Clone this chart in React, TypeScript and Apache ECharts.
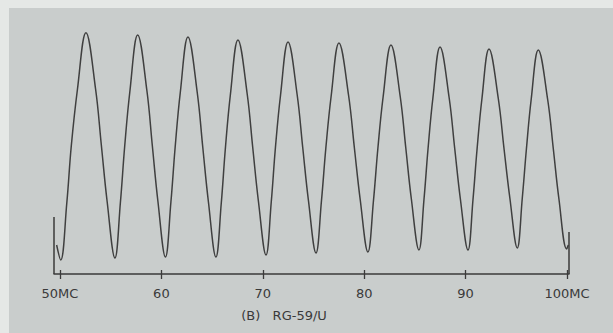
import React, { useEffect, useRef } from "react";
import * as echarts from "echarts";

// Frequency (MC) of each traced point along the curve
const curveMC = [
  49.67, 50.07,
  50.67, 51.11, 51.72, 52.56, 53.51, 54.08, 54.65, 55.42,
  55.96, 56.38, 56.9, 57.66, 58.57, 59.11, 59.66, 60.4,
  60.94, 61.36, 61.87, 62.62, 63.53, 64.08, 64.64, 65.38,
  65.91, 66.31, 66.81, 67.55, 68.46, 69.01, 69.57, 70.32,
  70.84, 71.24, 71.75, 72.49, 73.39, 73.94, 74.5, 75.25,
  75.79, 76.22, 76.75, 77.51, 78.46, 79.03, 79.61, 80.37,
  80.92, 81.35, 81.87, 82.64, 83.55, 84.1, 84.65, 85.4,
  85.9, 86.3, 86.78, 87.48, 88.38, 88.93, 89.49, 90.24,
  90.73, 91.13, 91.61, 92.31, 93.23, 93.79, 94.37, 95.1,
  95.59, 96.0, 96.47, 97.17, 98.1, 98.66, 99.21, 99.97,
  100.13,
];

// Relative response level at each traced point
const curveLevel = [
  11.6, 5.6,
  28.3, 51, 73.8, 96.5, 74, 51.5, 29, 6.4,
  28.7, 51, 73.3, 95.6, 73.4, 51.2, 29, 6.8,
  28.8, 50.8, 72.8, 94.8, 72.8, 50.8, 28.8, 6.8,
  28.5, 50.2, 71.9, 93.6, 72.1, 50.6, 29.1, 7.6,
  29, 50.2, 71.5, 92.8, 71.7, 50.6, 29.5, 8.4,
  29.4, 50.4, 71.4, 92.4, 71.5, 50.6, 29.7, 8.8,
  29.5, 50.2, 70.9, 91.6, 71.1, 50.6, 30.1, 9.6,
  29.9, 50.2, 70.5, 90.8, 70.5, 50.2, 29.9, 9.6,
  29.7, 49.8, 70, 90, 70.1, 50.2, 30.3, 10.4,
  30.2, 50, 69.8, 89.6, 69.7, 49.8, 29.9, 10,
  11.6,
];

const tickValues = [50, 60, 70, 80, 90, 100];
const tickLabels = ["50MC", "60", "70", "80", "90", "100MC"];

const axisStart = 49.41;
const axisEnd = 100.2;
const endMarkers = [
  { mc: 49.41, top: 22.8 },
  { mc: 100.15, top: 16.8 },
];

const subtitle = "(B)   RG-59/U";

const INK = "#3a3a3a";
const FONT = "DejaVu Sans";

export default function App() {
  const ref = useRef<HTMLDivElement>(null);

  useEffect(() => {
    if (!ref.current) return;
    const chart = echarts.init(ref.current, null, { renderer: "svg" });
    const points = curveMC.map((m, i) => [m, curveLevel[i]]);
    const labelFor = (v: number) => {
      const idx = tickValues.findIndex((t) => Math.abs(t - v) < 1e-6);
      return idx >= 0 ? tickLabels[idx] : "";
    };
    chart.setOption({
      animation: false,
      backgroundColor: "#e5e8e6",
      graphic: [
        {
          type: "rect",
          z: -10,
          silent: true,
          shape: { x: 9, y: 8, width: 604, height: 325 },
          style: { fill: "#c9cdcc" },
        },
        {
          type: "text",
          x: 284,
          y: 315,
          style: {
            text: subtitle,
            fill: INK,
            font: `13px "${FONT}"`,
            textAlign: "center",
            textVerticalAlign: "middle",
          },
        },
      ],
      grid: { left: 54, width: 515, top: 24, height: 250 },
      xAxis: [
        {
          type: "value",
          min: axisStart,
          max: axisEnd,
          position: "bottom",
          splitLine: { show: false },
          axisLine: { show: true, lineStyle: { color: INK, width: 1.5 } },
          axisTick: {
            show: true,
            length: 5,
            customValues: tickValues,
            lineStyle: { color: INK, width: 1.3 },
          },
          axisLabel: {
            show: true,
            customValues: tickValues,
            formatter: (v: number) => labelFor(v),
            color: INK,
            fontFamily: FONT,
            fontSize: 13,
            margin: 13,
          },
        },
        {
          type: "value",
          min: axisStart,
          max: axisEnd,
          position: "bottom",
          splitLine: { show: false },
          axisLine: { show: false },
          axisTick: {
            show: true,
            inside: true,
            length: 4,
            customValues: tickValues,
            lineStyle: { color: INK, width: 1.3 },
          },
          axisLabel: { show: false },
        },
      ],
      yAxis: {
        type: "value",
        min: 0,
        max: 100,
        show: false,
        splitLine: { show: false },
      },
      series: [
        {
          type: "line",
          xAxisIndex: 0,
          data: points,
          smooth: 0.4,
          showSymbol: false,
          lineStyle: { color: "#3f3f3f", width: 1.5 },
          markLine: {
            silent: true,
            symbol: "none",
            label: { show: false },
            lineStyle: { color: INK, width: 1.5, type: "solid" },
            data: endMarkers.map((e) => [
              { coord: [e.mc, 0] },
              { coord: [e.mc, e.top] },
            ]),
          },
        },
      ],
    });
    return () => chart.dispose();
  }, []);

  return (
    <div
      ref={ref}
      style={{ position: "fixed", left: 0, top: 0, width: 613, height: 333 }}
    />
  );
}
